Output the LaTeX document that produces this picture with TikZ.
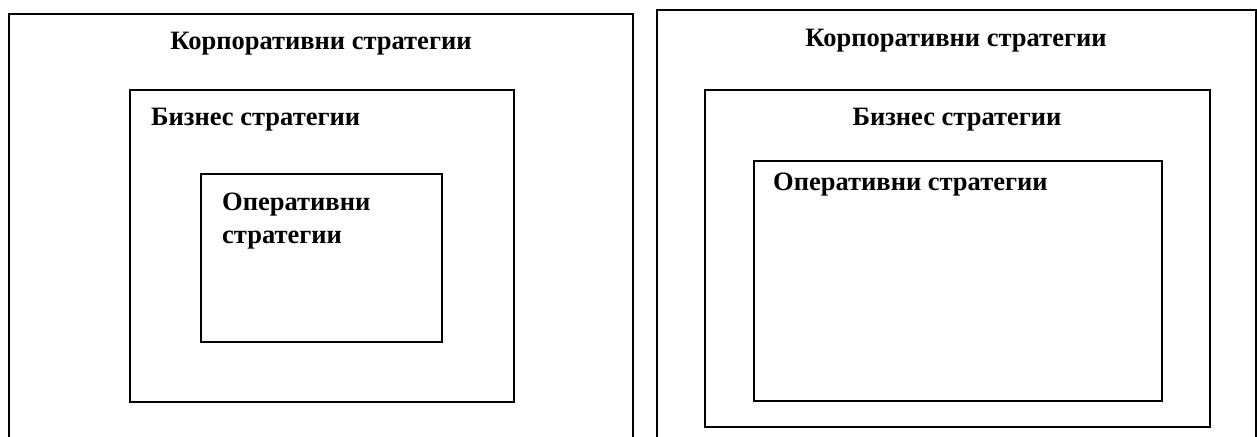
\documentclass[tikz,border=0pt]{standalone}
\usepackage{fontspec}
\setmainfont{Liberation Serif}
\begin{document}
\begin{tikzpicture}[x=1pt,y=-1pt,
  box/.style={draw=black,line width=1.8pt},
  lbl/.style={font=\fontsize{26.5}{33}\selectfont\bfseries,inner sep=0pt,anchor=base west}]
\useasboundingbox (0,0) rectangle (1257,436);
% left diagram
\draw[box] (9,445) |- (633,14) -- (633,445);
\node[box,minimum width=384pt,minimum height=312pt,anchor=north west,inner sep=0pt] (lb) at (129,89) {};
\node[box,minimum width=241pt,minimum height=168pt,anchor=north west,inner sep=0pt] (lo) at (200,173) {};
\node[lbl,anchor=base] (lct) at (321,50) {Корпоративни стратегии};
\node[lbl] (lbt) at (151,125) {Бизнес стратегии};
\node[lbl] (lot1) at (222,210) {Оперативни};
\node[lbl] (lot2) at (222,243) {стратегии};
% right diagram
\draw[box] (657,445) |- (1256,10) -- (1256,445);
\node[box,minimum width=505pt,minimum height=337pt,anchor=north west,inner sep=0pt] (rb) at (704,89) {};
\node[box,minimum width=408pt,minimum height=240pt,anchor=north west,inner sep=0pt] (ro) at (753,160) {};
\node[lbl,anchor=base] (rct) at (956,47) {Корпоративни стратегии};
\node[lbl,anchor=base] (rbt) at (957,125) {Бизнес стратегии};
\node[lbl] (rot) at (773,190) {Оперативни стратегии};
\end{tikzpicture}
\end{document}
